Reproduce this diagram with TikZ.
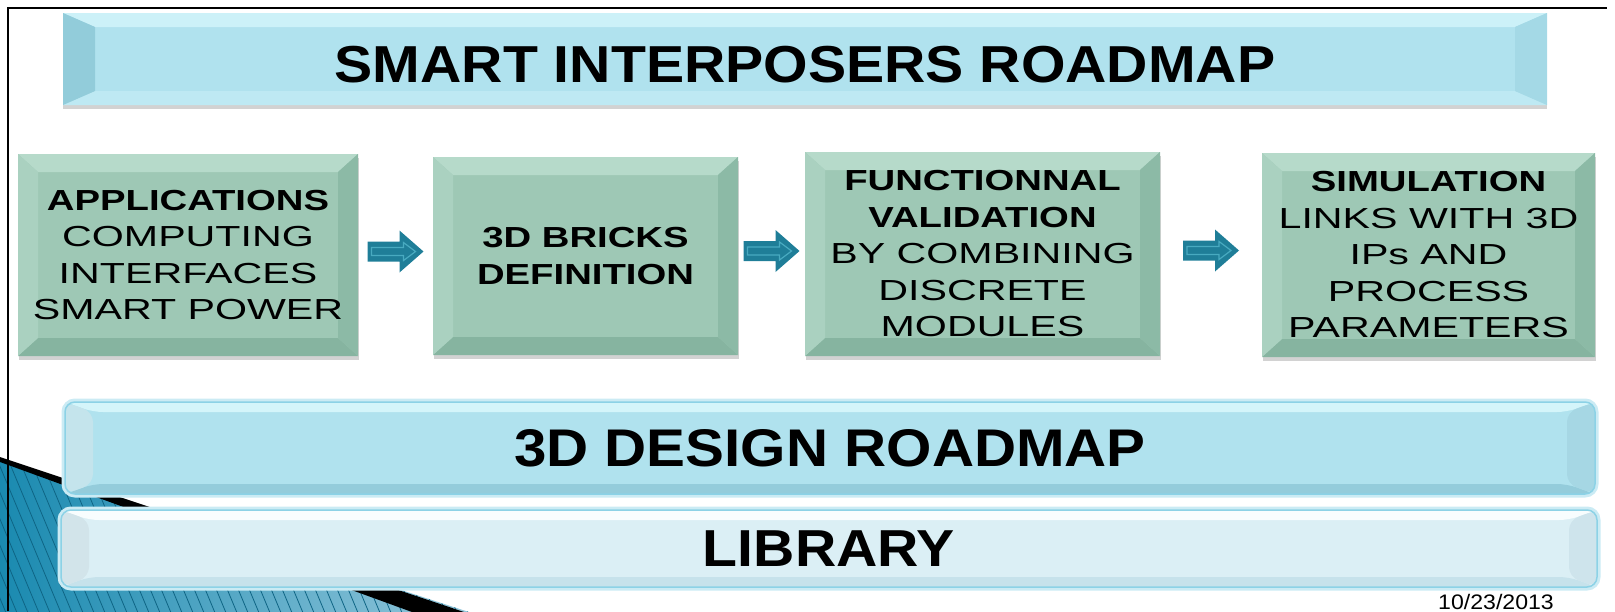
\documentclass[tikz,border=0pt]{standalone}
\usepackage{fontspec}
\setmainfont{Liberation Sans}
\newfontfamily\boxfont[FakeStretch=1.42, BoldFeatures={FakeStretch=1.32}]{Liberation Sans}
\newfontfamily\barfont[FakeStretch=1.1]{Liberation Sans}
\usetikzlibrary{calc,shadows}

\definecolor{greenbody}{RGB}{158,200,181}
\definecolor{greentop}{RGB}{182,218,202}
\definecolor{greenleft}{RGB}{170,209,192}
\definecolor{greenright}{RGB}{140,186,166}
\definecolor{greenbot}{RGB}{134,180,160}
\definecolor{skybody}{RGB}{176,226,238}
\definecolor{skytop}{RGB}{204,241,248}
\definecolor{skyleft}{RGB}{146,204,218}
\definecolor{skyright}{RGB}{164,217,230}
\definecolor{skybot}{RGB}{190,233,243}
\definecolor{dsntop}{RGB}{212,245,250}
\definecolor{dsnleft}{RGB}{196,228,236}
\definecolor{dsnright}{RGB}{166,215,228}
\definecolor{dsnbot}{RGB}{148,204,219}
\definecolor{libtop}{RGB}{248,253,254}
\definecolor{libleft}{RGB}{210,228,234}
\definecolor{libright}{RGB}{206,228,236}
\definecolor{libbot}{RGB}{198,226,235}
\definecolor{palebody}{RGB}{219,239,245}
\definecolor{glowblue}{RGB}{140,210,230}
\definecolor{arrowblue}{RGB}{31,126,152}
\definecolor{arrowline}{RGB}{72,170,192}
\definecolor{stripeblue}{RGB}{26,138,176}
\definecolor{stripelight}{RGB}{150,200,220}
\definecolor{stripedark}{RGB}{14,100,132}

\tikzset{
  bevelled/.style args={#1/#2/#3}{path picture={
    \coordinate (pnw) at (path picture bounding box.north west);
    \coordinate (pne) at (path picture bounding box.north east);
    \coordinate (psw) at (path picture bounding box.south west);
    \coordinate (pse) at (path picture bounding box.south east);
    \coordinate (qnw) at ([shift={(#2,#3)}]pnw);
    \coordinate (qne) at ([shift={(-#2,#3)}]pne);
    \coordinate (qsw) at ([shift={(#2,-#3)}]psw);
    \coordinate (qse) at ([shift={(-#2,-#3)}]pse);
    \fill[#1top] (pnw) -- (pne) -- (qne) -- (qnw) -- cycle;
    \fill[#1bot] (psw) -- (pse) -- (qse) -- (qsw) -- cycle;
    \fill[#1left] (pnw) -- (qnw) -- (qsw) -- (psw) -- cycle;
    \fill[#1right] (pne) -- (qne) -- (qse) -- (pse) -- cycle;
  }},
  stepbox/.style={rectangle, fill=greenbody, bevelled=green/20/18,
    drop shadow={shadow xshift=1pt, shadow yshift=-4pt, opacity=0.25, fill=black!70},
    align=center, inner sep=0pt, font=\boxfont\fontsize{29}{36.5}\selectfont},
  titlebar/.style={rectangle, fill=skybody, bevelled=sky/32/14,
    drop shadow={shadow xshift=0pt, shadow yshift=-4pt, opacity=0.25, fill=black!70},
    inner sep=0pt, text height=47pt, text depth=0pt,
    font=\barfont\fontsize{52}{52}\selectfont\bfseries},
  roadbar/.style={rectangle, rounded corners=10pt, fill=#1body, bevelled=#1/28/10,
    preaction={draw=glowblue!45, line width=7pt},
    draw=glowblue, line width=1.5pt, inner sep=0pt,
    font=\barfont\fontsize{53}{53}\selectfont\bfseries},
  blockarrow/.pic={
    \fill[arrowblue] (-28,-10) -- (4,-10) -- (4,-21) -- (28,0) -- (4,21)
      -- (4,10) -- (-28,10) -- cycle;
    \draw[arrowline, line width=1.2pt] (-24,-4) -- (8,-4) -- (8,-9) -- (20,0)
      -- (8,9) -- (8,4) -- (-24,4) -- cycle;
  },
}
\colorlet{dsnbody}{skybody}
\colorlet{libbody}{palebody}

\begin{document}
\begin{tikzpicture}[x=1pt,y=-1pt]
  \useasboundingbox (0,0) rectangle (1615,611);
  \clip (0,0) rectangle (1615,611);

  % striped corner of the slide
  \begin{scope}
    \clip (0,460) -- (472,613) -- (0,613) -- cycle;
    \shade[left color=stripeblue, right color=stripelight] (0,440) rectangle (480,620);
    \foreach \s in {-30,...,50}
      \draw[stripedark, line width=0.8pt] (\s*11,440) -- ++(75,180);
  \end{scope}
  \fill[black] (0,457) -- (464,612) -- (412,612) -- (0,462) -- cycle;
  \draw[line width=2.5pt] (8,611) -- (8,8) -- (1607,8);

  \node[titlebar, minimum width=1484pt, minimum height=92pt] (title) at (805,59)
    {SMART INTERPOSERS ROADMAP};

  % the four steps
  \node[stepbox, minimum width=340pt, minimum height=202pt] (app) at (188,255)
    {\textbf{APPLICATIONS}\\COMPUTING\\INTERFACES\\SMART POWER};
  \node[stepbox, minimum width=305pt, minimum height=198pt] (bricks) at (585.5,256)
    {\textbf{3D BRICKS}\\\textbf{DEFINITION}};
  \node[stepbox, minimum width=355pt, minimum height=204pt] (valid) at (982.5,254)
    {\textbf{FUNCTIONNAL}\\\textbf{VALIDATION}\\BY COMBINING\\DISCRETE\\MODULES};
  \node[stepbox, minimum width=333pt, minimum height=204pt] (simu) at (1428.5,255)
    {\textbf{SIMULATION}\\LINKS WITH 3D\\IPs AND\\PROCESS\\PARAMETERS};

  \pic at ($(app.east)!0.5!(bricks.west)+(0,-4)$) {blockarrow};
  \pic at ($(bricks.east)!0.5!(valid.west)+(0,-4)$) {blockarrow};
  \pic at ($(valid.east)!0.5!(simu.west)+(0,-4)$) {blockarrow};

  \node[roadbar=dsn, minimum width=1530pt, minimum height=92pt] (design) at (830,448)
    {3D DESIGN ROADMAP};
  \node[roadbar=lib, minimum width=1536pt, minimum height=77pt] (library) at (829,548.5)
    {\fontsize{52}{52}\selectfont LIBRARY};

  \node[anchor=north, inner sep=0pt, font=\barfont\fontsize{21}{21}\selectfont] (date)
    at (1496,594) {10/23/2013};
\end{tikzpicture}
\end{document}
